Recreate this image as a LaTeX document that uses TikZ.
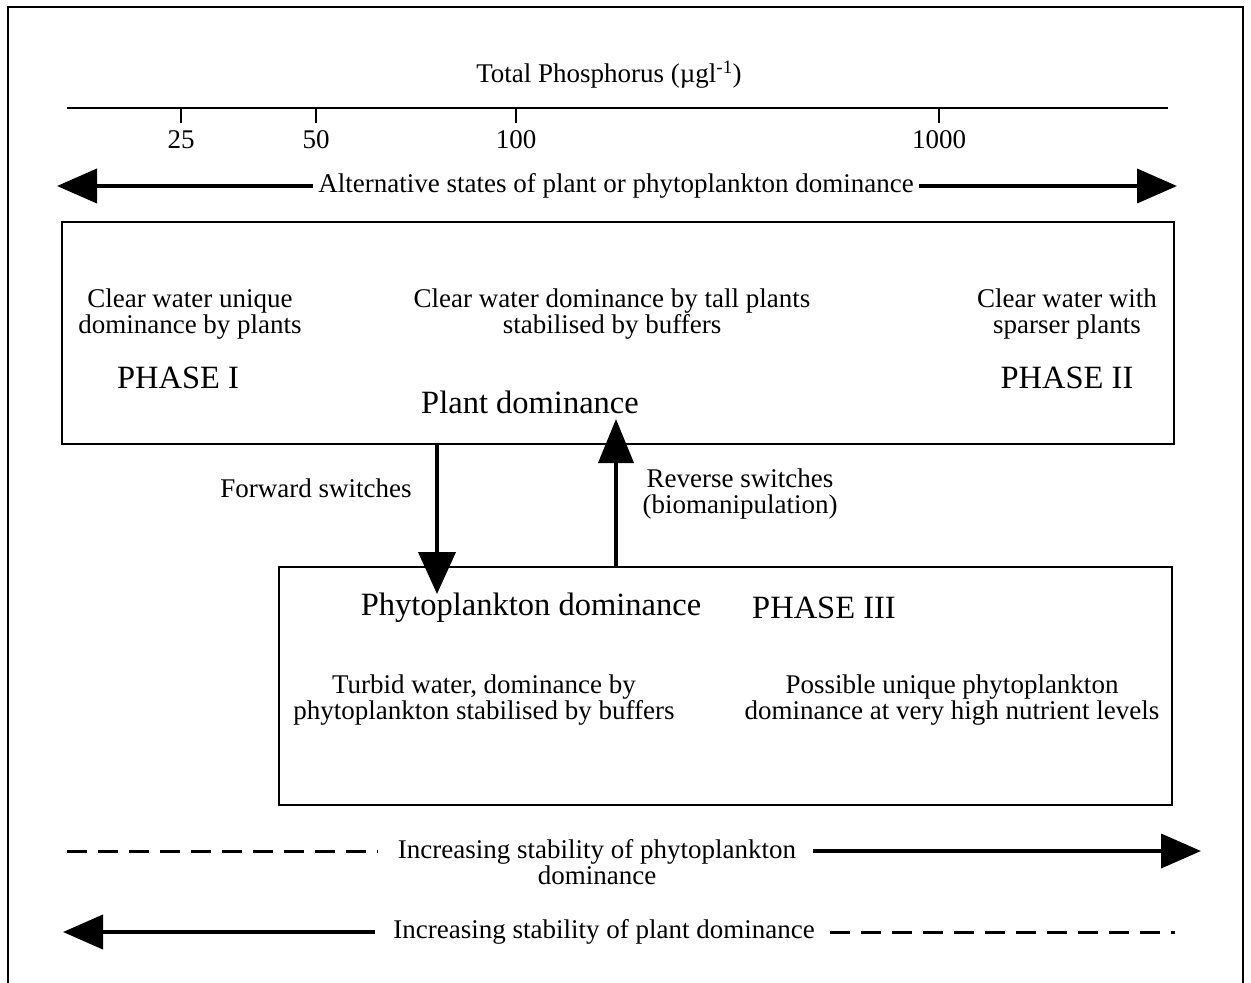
\documentclass[tikz,border=0pt]{standalone}
\usepackage{fontspec}
\setmainfont{Liberation Serif}
\usetikzlibrary{arrows.meta}
\begin{document}
\begin{tikzpicture}[x=1pt,y=-1pt,
  txt/.style={inner sep=0pt,align=center,font=\fontsize{27}{26}\selectfont},
  big/.style={inner sep=0pt,align=center,font=\fontsize{32.5}{32}\selectfont},
  boxline/.style={line width=2.2pt},
  fat/.style={line width=4pt},
  bighead/.style={-{Triangle[length=40pt,width=34pt]}},
  dashline/.style={line width=3pt,dash pattern=on 20pt off 11pt}]
\useasboundingbox (0,0) rectangle (1251,983);
% outer frame (open at bottom)
\draw[line width=2pt] (8,983) -- (8,7) -- (1243,7) -- (1243,983);
% axis
\node[txt] (title) at (609,75) {Total Phosphorus (µgl\textsuperscript{-1})};
\coordinate (axL) at (67,108);
\coordinate (axR) at (1168,108);
\draw[boxline] (axL) -- (axR);
\foreach \xx/\lab/\nm in {181/25/a,316/50/b,516/100/c,939/1000/d}{
  \coordinate (t\nm) at (\xx,108);
  \coordinate (u\nm) at (\xx,123);
  \draw[line width=1.6pt] (t\nm) -- (u\nm);
  \node[txt] (n\nm) at (\xx,140) {\lab};
}
% alternative states arrow
\node[txt] (alt) at (616,186) {Alternative states of plant or phytoplankton dominance};
\coordinate (altL) at (57,186);
\coordinate (altR) at (1177,186);
\draw[fat,bighead] ([xshift=-5pt]alt.west) -- (altL);
\draw[fat,bighead] ([xshift=5pt]alt.east) -- (altR);
% upper box
\node[draw,boxline,minimum width=1112pt,minimum height=222pt,inner sep=0pt] (upper) at (618,333) {};
\node[txt] (p1) at (190,314) {Clear water unique\\dominance by plants};
\node[txt] (p2) at (612,314) {Clear water dominance by tall plants\\stabilised by buffers};
\node[txt] (p3) at (1067,314) {Clear water with\\sparser plants};
\node[big] (ph1) at (178,378) {PHASE I};
\node[big] (ph2) at (1067,378) {PHASE II};
\node[big] (plant) at (530,402) {Plant dominance};
% lower box
\node[draw,boxline,minimum width=893pt,minimum height=238pt,inner sep=0pt] (lower) at (725.5,686) {};
\node[big] (phyto) at (531,608) {Phytoplankton dominance};
\node[big] (ph3) at (824,608) {PHASE III};
\node[txt] (q1) at (484,700) {Turbid water, dominance by\\phytoplankton stabilised by buffers};
\node[txt] (q2) at (952,700) {Possible unique phytoplankton\\dominance at very high nutrient levels};
% switches
\coordinate (fwdS) at (437,444);
\coordinate (fwdE) at (437,594);
\draw[fat,-{Triangle[length=42pt,width=37pt]}] (fwdS) -- (fwdE);
\coordinate (revS) at (616,568);
\coordinate (revE) at (616,419);
\draw[fat,-{Triangle[length=44pt,width=35pt]}] (revS) -- (revE);
\node[txt] (fwd) at (316,488) {Forward switches};
\node[txt] (rev) at (740,494) {Reverse switches\\(biomanipulation)};
% bottom arrows
\node[txt] (inc1) at (597,862) {Increasing stability of phytoplankton\\dominance};
\coordinate (d1L) at (67,851);
\coordinate (d1M) at (378,851);
\coordinate (s1S) at (813,851);
\coordinate (s1E) at (1201,851);
\draw[dashline] (d1L) -- (d1M);
\draw[fat,bighead] (s1S) -- (s1E);
\node[txt] (inc2) at (604,932) {Increasing stability of plant dominance};
\coordinate (s2S) at (375,932);
\coordinate (s2E) at (63,932);
\coordinate (d2L) at (830,932);
\coordinate (d2R) at (1175,932);
\draw[fat,bighead] (s2S) -- (s2E);
\draw[dashline] (d2L) -- (d2R);
\end{tikzpicture}
\end{document}
